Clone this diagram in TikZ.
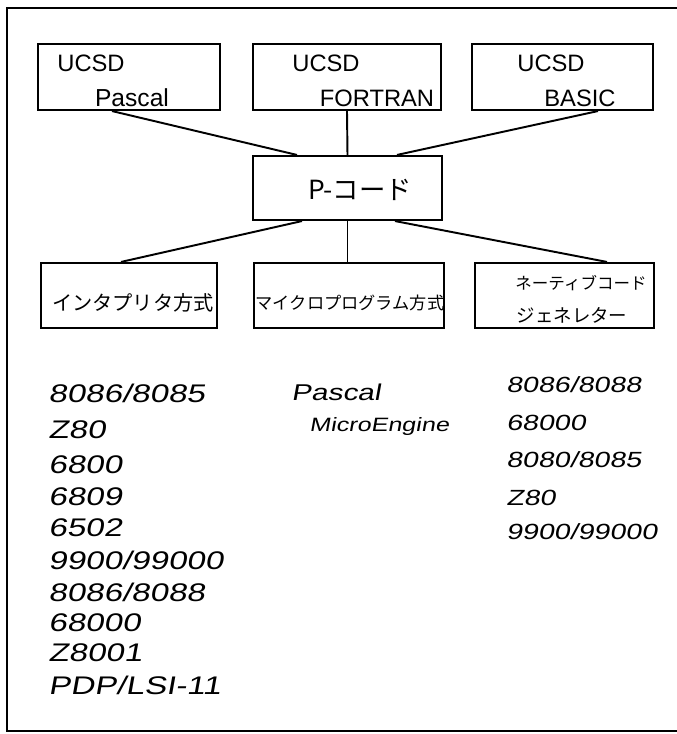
\documentclass[tikz,border=0pt]{standalone}
\usepackage{fontspec}
\usetikzlibrary{calc}
\newfontfamily\jpfont{Noto Sans CJK JP}
\newfontfamily\boxfont{Liberation Sans}
\newfontfamily\handfont{Liberation Sans}[FakeSlant=0.18,FakeStretch=1.3]

\begin{document}
\begin{tikzpicture}[
    box/.style={draw, line width=1.2pt, inner sep=0pt},
    word/.style={inner sep=0pt, font=\boxfont\fontsize{13.5}{15}\selectfont},
    jp/.style={inner sep=0pt},
    cpu/.style={anchor=west, inner sep=0pt, font=\handfont\fontsize{14.5}{16}\selectfont},
    cpuright/.style={anchor=west, inner sep=0pt, font=\handfont\fontsize{12.5}{15}\selectfont},
    link/.style={line width=1.1pt}]
  \useasboundingbox (0,0) rectangle (13.54,14.68);
  \draw[line width=1.4pt] (13.7,14.52) -- (0.14,14.52) -- (0.14,0.06) -- (13.7,0.06);

  % top row
  \node[box, minimum width=3.64cm, minimum height=1.32cm] (ucsdpas) at (2.58,13.14) {};
  \node[box, minimum width=3.76cm, minimum height=1.32cm] (ucsdfor) at (6.94,13.14) {};
  \node[box, minimum width=3.62cm, minimum height=1.32cm] (ucsdbas) at (11.25,13.14) {};
  \node[word] (pasA) at (1.82,13.42) {UCSD};
  \node[word, font=\boxfont\fontsize{14}{16}\selectfont] (pasB) at (2.64,12.72) {Pascal};
  \node[word] (forA) at (6.52,13.42) {UCSD};
  \node[word] (forB) at (7.54,12.72) {FORTRAN};
  \node[word] (basA) at (11.02,13.42) {UCSD};
  \node[word] (basB) at (11.6,12.72) {BASIC};

  % P-code
  \node[box, minimum width=3.78cm, minimum height=1.28cm] (pcode) at (6.95,10.92) {};
  \node[jp, font=\jpfont\fontsize{15}{17}\selectfont] (pcodetxt) at (7.2,10.88) {P-コード};

  % bottom row
  \node[box, minimum width=3.52cm, minimum height=1.30cm] (interp) at (2.58,8.77) {};
  \node[box, minimum width=3.80cm, minimum height=1.30cm] (micro) at (6.98,8.77) {};
  \node[box, minimum width=3.58cm, minimum height=1.30cm] (native) at (11.29,8.77) {};
  \node[jp, font=\jpfont\fontsize{11.5}{13}\selectfont] (interptxt) at (2.66,8.62) {インタプリタ方式};
  \node[jp, font=\jpfont\fontsize{9.8}{11}\selectfont] (microtxt) at (7.0,8.62) {マイクロプログラム方式};
  \node[jp, font=\jpfont\fontsize{9.4}{11}\selectfont] (nativeA) at (11.62,9.02) {ネーティブコード};
  \node[jp, font=\jpfont\fontsize{10.5}{12}\selectfont] (nativeB) at (11.44,8.38) {ジェネレター};

  \draw[link] ([xshift=-0.34cm]ucsdpas.south) -- ([xshift=-1.01cm]pcode.north);
  \draw[link] (ucsdfor.south) -- (pcode.north);
  \draw[link] ([xshift=0.71cm]ucsdbas.south) -- ([xshift=0.99cm]pcode.north);
  \draw[link] ([xshift=-0.91cm]pcode.south) -- ([xshift=-0.16cm]interp.north);
  \draw[link] (pcode.south) -- (pcode.south |- micro.north);
  \draw[link] ([xshift=0.95cm]pcode.south) -- ([xshift=0.85cm]native.north);

  % lists
  \node[cpu] (l1) at (0.96,6.82) {8086/8085};
  \node[cpu] (l2) at (0.96,6.08) {Z80};
  \node[cpu] (l3) at (0.96,5.38) {6800};
  \node[cpu] (l4) at (0.96,4.74) {6809};
  \node[cpu] (l5) at (0.96,4.12) {6502};
  \node[cpu] (l6) at (0.96,3.48) {9900/99000};
  \node[cpu] (l7) at (0.96,2.84) {8086/8088};
  \node[cpu] (l8) at (0.96,2.22) {68000};
  \node[cpu] (l9) at (0.96,1.62) {Z8001};
  \node[cpu] (l10) at (0.96,0.98) {PDP/LSI-11};

  \node[cpuright, font=\handfont\fontsize{13}{15}\selectfont] (m1) at (5.82,6.84) {Pascal};
  \node[cpuright, font=\handfont\fontsize{11}{13}\selectfont] (m2) at (6.18,6.14) {MicroEngine};

  \node[cpuright] (r1) at (10.12,6.98) {8086/8088};
  \node[cpuright] (r2) at (10.12,6.22) {68000};
  \node[cpuright] (r3) at (10.12,5.48) {8080/8085};
  \node[cpuright] (r4) at (10.12,4.72) {Z80};
  \node[cpuright] (r5) at (10.12,4.04) {9900/99000};
\end{tikzpicture}
\end{document}
